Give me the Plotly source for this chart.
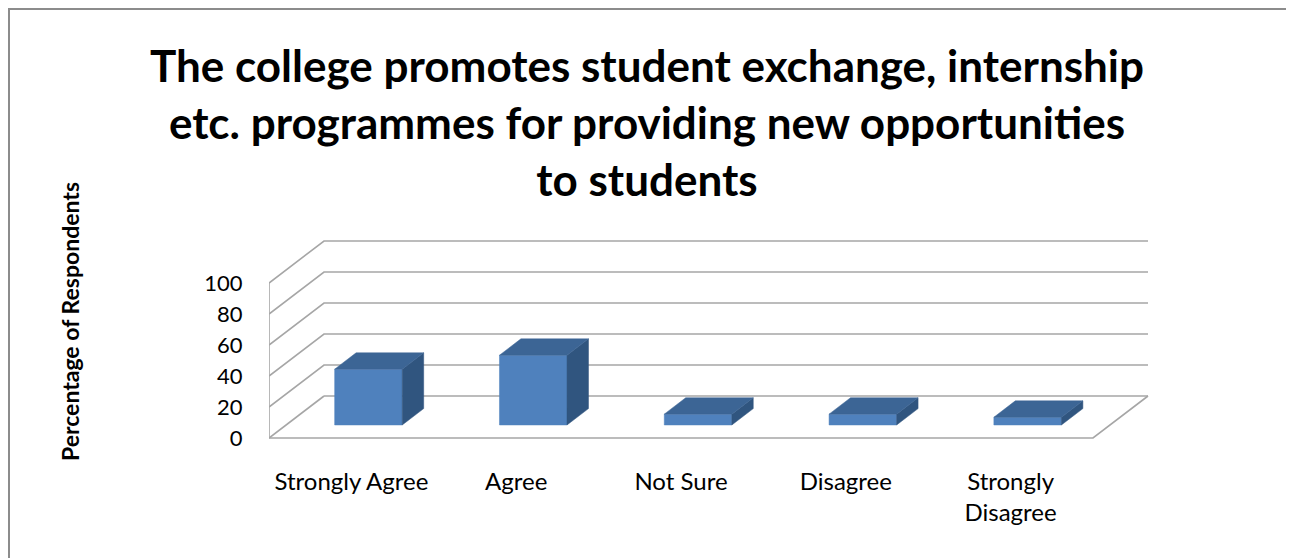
import plotly.graph_objects as go

# ---- data ----
categories = ["Strongly Agree", "Agree", "Not Sure", "Disagree", "Strongly<br>Disagree"]
values = [36, 45, 7, 7, 5]
y_ticks = [0, 20, 40, 60, 80, 100]
title_text = ("The college promotes student exchange, internship<br>"
              "etc. programmes for providing new opportunities<br>"
              "to students")
y_title = "Percentage of Respondents"

# ---- layout geometry (page pixels; page has 8px body margin) ----
W, H = 1294, 558
OFF = 8
PX_LEFT = 269 - OFF    # front-left corner of floor
PX_CAT = 164.8         # pixels per category
PY_ZERO = 438 - OFF    # value 0 at front plane
PY_UNIT = 1.55         # pixels per value unit
PLOT_L, PLOT_R = PX_LEFT, 1160 - OFF
PLOT_T, PLOT_B = 228 - OFF, 440 - OFF
DEPTH_PX_X, DEPTH_PX_Y = 55, 42

x_rng = [-0.5, -0.5 + (PLOT_R - PLOT_L) / PX_CAT]
y_rng = [-(PLOT_B - PY_ZERO) / PY_UNIT, (PY_ZERO - PLOT_T) / PY_UNIT]
DX = DEPTH_PX_X / PX_CAT
DY = DEPTH_PX_Y / PY_UNIT
n = len(categories)
BAR_W = 0.41
D0, D1 = 0.31, 0.70

FRONT = "#4F81BD"
TOP = "#3C6595"
SIDE = "#30557F"
GRID = "#A6A6A6"


def px_x(p):
    return (p - OFF - PLOT_L) / (PLOT_R - PLOT_L)


def px_y(p):
    return (PLOT_B - (p - OFF)) / (PLOT_B - PLOT_T)


fig = go.Figure()


def line(xs, ys, color=GRID, width=1.6):
    fig.add_trace(go.Scatter(x=xs, y=ys, mode="lines", line=dict(color=color, width=width),
                             hoverinfo="skip", showlegend=False))


def poly(xs, ys, color):
    fig.add_trace(go.Scatter(x=xs + [xs[0]], y=ys + [ys[0]], mode="lines", fill="toself",
                             fillcolor=color, line=dict(color=color, width=0.5),
                             hoverinfo="skip", showlegend=False))


x0, x1 = -0.5, n - 0.5
# walls and gridlines
for v in y_ticks:
    if v == 0:
        continue
    line([x0, x0 + DX, x1 + DX], [v, v + DY, v + DY])
# floor
line([x0 + DX, x1 + DX], [DY, DY])
line([x0, x0 + DX], [0, DY])
line([x0, x1, x1 + DX], [0, 0, DY])
# left front edge
line([x0, x0], [0, y_ticks[-1]])

# bars
for i, v in enumerate(values):
    xl, xr = i - BAR_W / 2, i + BAR_W / 2
    a0x, a0y = D0 * DX, D0 * DY
    a1x, a1y = D1 * DX, D1 * DY
    poly([xl + a0x, xr + a0x, xr + a0x, xl + a0x], [a0y, a0y, v + a0y, v + a0y], FRONT)
    poly([xr + a0x, xr + a1x, xr + a1x, xr + a0x], [a0y, a1y, v + a1y, v + a0y], SIDE)
    poly([xl + a0x, xr + a0x, xr + a1x, xl + a1x], [v + a0y, v + a0y, v + a1y, v + a1y], TOP)

fig.update_layout(
    width=W, height=H,
    margin=dict(l=PLOT_L, r=W - PLOT_R, t=PLOT_T, b=H - PLOT_B),
    paper_bgcolor="white", plot_bgcolor="white",
    xaxis=dict(range=x_rng, tickvals=list(range(n)), ticktext=categories,
               showgrid=False, zeroline=False, showline=False,
               ticks="outside", ticklen=20, tickcolor="rgba(0,0,0,0)",
               tickfont=dict(family="Lato", size=24, color="black")),
    yaxis=dict(range=y_rng, tickvals=y_ticks, showgrid=False, zeroline=False, showline=False,
               ticks="outside", ticklen=21, tickcolor="rgba(0,0,0,0)",
               tickfont=dict(family="Lato", size=22, color="black")),
    annotations=[
        dict(text=title_text, xref="paper", yref="paper", x=px_x(647), y=px_y(37),
             xanchor="center", yanchor="top", showarrow=False,
             font=dict(family="Lato", size=44, color="black", weight="bold")),
        dict(text=y_title, textangle=-90, xref="paper", yref="paper",
             x=px_x(70), y=px_y(322), xanchor="center", yanchor="middle", showarrow=False,
             font=dict(family="Lato", size=23, color="black", weight="bold")),
    ],
    shapes=[dict(type="path", xref="paper", yref="paper",
                 path="M {0},{1} L {0},{2} L {3},{2} L {3},{1}".format(
                     px_x(OFF + 1), px_y(570), px_y(OFF + 1), px_x(1300)),
                 line=dict(color="#8C8C8C", width=2))],
)

fig.write_html("out.html")
